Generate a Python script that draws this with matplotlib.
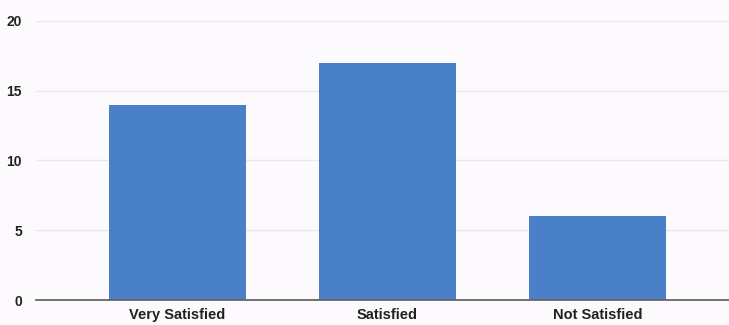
import matplotlib
matplotlib.use("Agg")
import matplotlib.pyplot as plt

categories = ["Very Satisfied", "Satisfied", "Not Satisfied"]
values = [14, 17, 6]
yticks = [0, 5, 10, 15, 20]

bg = "#fdfafd"
fig = plt.figure(figsize=(7.29, 3.25), dpi=100, facecolor=bg)
ax = fig.add_axes([36/729, 25/325, 1 - 36/729, 279/325])
ax.set_facecolor(bg)

x = range(len(categories))
ax.bar(x, values, width=0.65, color="#4a80c8", zorder=3)

ax.set_ylim(0, 20)
ax.set_xlim(-0.674, 2.626)
ax.set_yticks(yticks)
ax.set_xticks(list(x))
ax.set_xticklabels(categories, fontfamily="Liberation Sans", fontweight="bold",
                   fontsize=10.5, color="#222222")
ax.set_yticklabels([str(t) for t in yticks], fontfamily="Liberation Sans",
                   fontweight="bold", fontsize=10, color="#222222")
ax.tick_params(axis="x", length=0, pad=6)
ax.tick_params(axis="y", length=0, pad=10)
ax.grid(axis="y", color="#ebe6eb", linewidth=1.0, zorder=0)
for s in ["top", "right", "left"]:
    ax.spines[s].set_visible(False)
ax.spines["bottom"].set_color("#666666")
ax.spines["bottom"].set_linewidth(1.3)
ax.spines["bottom"].set_zorder(4)

fig.savefig("out.png", dpi=100, facecolor=bg)
